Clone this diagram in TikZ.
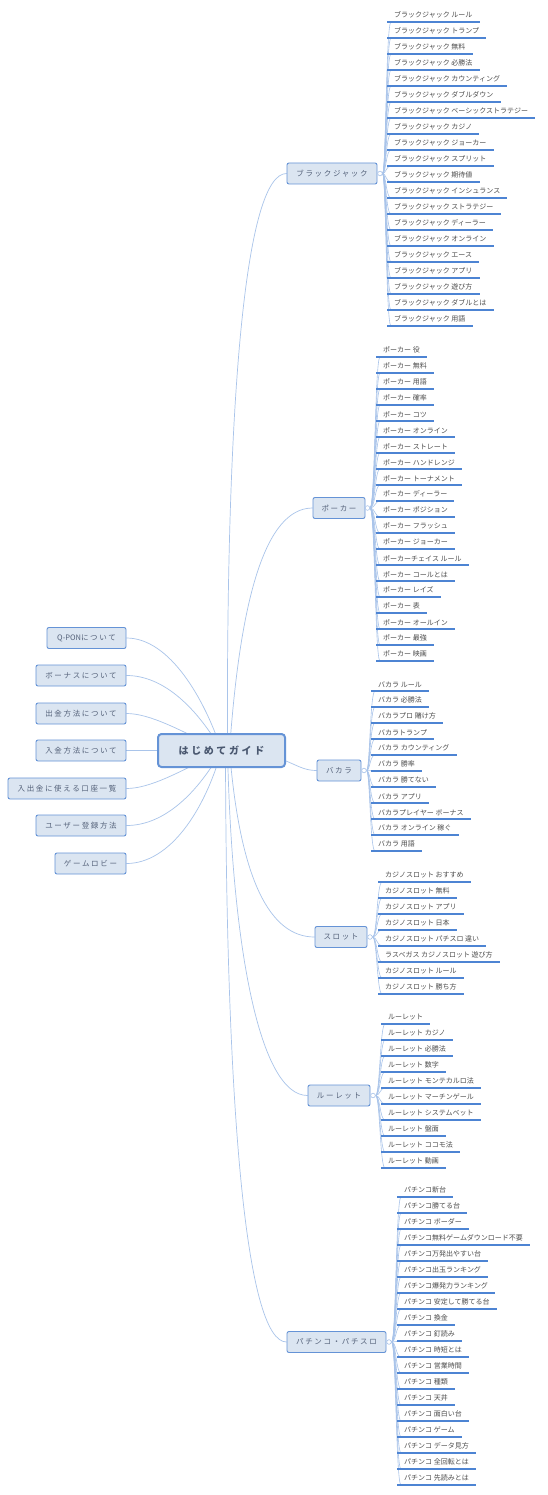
\documentclass[tikz,border=0pt]{standalone}
\usepackage{fontspec}
\newfontfamily\jp{Noto Sans CJK JP}
\newfontfamily\jpls[LetterSpace=22]{Noto Sans CJK JP}
\newfontfamily\jpcen[LetterSpace=26]{Noto Sans CJK JP}
\pgfdeclarelayer{background}
\pgfdeclarelayer{bottom}
\pgfsetlayers{bottom,background,main}
\definecolor{nodef}{HTML}{DBE5F1}
\definecolor{nodeb}{HTML}{6593D6}
\definecolor{connc}{HTML}{A9C4EA}
\definecolor{ulinec}{HTML}{4D84D3}
\definecolor{leaftext}{HTML}{4D4D4D}
\definecolor{cattext}{HTML}{55627A}
\definecolor{centext}{HTML}{4A5870}
\newcommand\mkleaves[6]{%
  \foreach \t [count=\i from 0] in {#6}{%
    \node[leaf] (#1\i) at (#3,{#4+16*\i}) {\t};
    \begin{pgfonlayer}{background}
      \draw[lconn] (#2.east) .. controls (#3-1,#5) and (#3-1,{#4+16*\i}) .. ([xshift=4pt]#1\i.south west);
    \end{pgfonlayer}
    \draw[uline] (#1\i.south west) -- (#1\i.south east);
  }}
\begin{document}
\begin{tikzpicture}[x=1pt,y=-1pt,
  catbox/.style={draw=nodeb, fill=nodef, rounded corners=2pt, line width=0.9pt,
    font=\jpls\fontsize{7.5}{9}\selectfont, text=cattext, minimum height=21pt, inner xsep=2pt, inner ysep=1pt},
  cenbox/.style={draw=nodeb, fill=nodef, rounded corners=3.5pt, line width=2pt,
    font=\jpcen\bfseries\fontsize{10}{12}\selectfont, text=centext, minimum width=127pt, minimum height=33pt},
  leaf/.style={anchor=south west, inner xsep=7pt, inner ysep=3.5pt,
    font=\jp\fontsize{7}{8}\selectfont, text=leaftext},
  uline/.style={draw=ulinec, line width=1.2pt},
  conn/.style={draw=connc, line width=0.7pt},
  lconn/.style={draw=connc, line width=0.6pt},
  marker/.style={circle, draw=connc, fill=white, line width=0.6pt, inner sep=0pt, minimum size=4.6pt}
]
\begin{pgfonlayer}{bottom}
  \fill[white] (0,0) rectangle (547,1495);
\end{pgfonlayer}
\useasboundingbox (0,0) rectangle (547,1495);

% center
\node[cenbox] (hc) at (221.5,750.5) {はじめてガイド};

% left nodes
\node[catbox, minimum width=79pt] (q) at (86.5,638) {{\jp\fontsize{7.5}{9}\selectfont Q-PON}について};
\node[catbox, minimum width=90pt] (bo) at (81,675.5) {ボーナスについて};
\node[catbox, minimum width=90pt] (sk) at (81,713.5) {出金方法について};
\node[catbox, minimum width=90pt] (nk) at (81,750.5) {入金方法について};
\node[catbox, minimum width=118pt] (ko) at (67,788.5) {入出金に使える口座一覧};
\node[catbox, minimum width=90pt] (us) at (81,825.5) {ユーザー登録方法};
\node[catbox, minimum width=71pt] (gl) at (90.5,863.5) {ゲームロビー};

% categories
\node[catbox, minimum width=90pt] (bj) at (332,173.5) {ブラックジャック};
\node[catbox, minimum width=52pt] (pk) at (339,508) {ポーカー};
\node[catbox, minimum width=44pt] (bc) at (339,770.5) {バカラ};
\node[catbox, minimum width=52pt] (sl) at (341,937) {スロット};
\node[catbox, minimum width=62pt] (rl) at (339,1095.5) {ルーレット};
\node[catbox, minimum width=99pt] (pc) at (336.5,1342) {パチンコ・パチスロ};

\node[marker] (bjm) at (380,173.5) {};
\node[marker] (pkm) at (367.5,508) {};
\node[marker] (bcm) at (364,770.5) {};
\node[marker] (slm) at (370,937) {};
\node[marker] (rlm) at (373,1095.5) {};
\node[marker] (pcm) at (389,1342) {};

\begin{pgfonlayer}{background}
  % left connectors
  \draw[conn] (hc.center) .. controls (205,700) and (170,638) .. (q.east);
  \draw[conn] (hc.center) .. controls (198,710) and (165,675.5) .. (bo.east);
  \draw[conn] (hc.center) .. controls (180,730) and (150,713.5) .. (sk.east);
  \draw[conn] (hc.center) -- (nk.east);
  \draw[conn] (hc.center) .. controls (180,772) and (150,788.5) .. (ko.east);
  \draw[conn] (hc.center) .. controls (198,792) and (165,825.5) .. (us.east);
  \draw[conn] (hc.center) .. controls (205,810) and (170,863.5) .. (gl.east);
  % right connectors
  \draw[conn] ([xshift=6pt]hc.center) .. controls (226,400) and (245,173.5) .. (bj.west);
  \draw[conn] ([xshift=8pt]hc.center) .. controls (240,600) and (265,508) .. (pk.west);
  \draw[conn] ([xshift=18pt]hc.center) .. controls (290,755) and (295,770.5) .. (bc.west);
  \draw[conn] ([xshift=8pt]hc.center) .. controls (240,880) and (270,937) .. (sl.west);
  \draw[conn] ([xshift=6pt]hc.center) .. controls (232,950) and (260,1095.5) .. (rl.west);
  \draw[conn] ([xshift=4pt]hc.center) .. controls (226,1100) and (245,1342) .. (pc.west);
\end{pgfonlayer}

\mkleaves{bj}{bjm}{387}{22}{173.5}{ブラックジャック ルール,
ブラックジャック トランプ,
ブラックジャック 無料,
ブラックジャック 必勝法,
ブラックジャック カウンティング,
ブラックジャック ダブルダウン,
ブラックジャック ベーシックストラテジー,
ブラックジャック カジノ,
ブラックジャック ジョーカー,
ブラックジャック スプリット,
ブラックジャック 期待値,
ブラックジャック インシュランス,
ブラックジャック ストラテジー,
ブラックジャック ディーラー,
ブラックジャック オンライン,
ブラックジャック エース,
ブラックジャック アプリ,
ブラックジャック 遊び方,
ブラックジャック ダブルとは,
ブラックジャック 用語}

\mkleaves{pk}{pkm}{376}{357}{508}{ポーカー 役,
ポーカー 無料,
ポーカー 用語,
ポーカー 確率,
ポーカー コツ,
ポーカー オンライン,
ポーカー ストレート,
ポーカー ハンドレンジ,
ポーカー トーナメント,
ポーカー ディーラー,
ポーカー ポジション,
ポーカー フラッシュ,
ポーカー ジョーカー,
ポーカーチェイス ルール,
ポーカー コールとは,
ポーカー レイズ,
ポーカー 表,
ポーカー オールイン,
ポーカー 最強,
ポーカー 映画}

\mkleaves{bc}{bcm}{371}{691}{770.5}{バカラ ルール,
バカラ 必勝法,
バカラプロ 賭け方,
バカラトランプ,
バカラ カウンティング,
バカラ 勝率,
バカラ 勝てない,
バカラ アプリ,
バカラプレイヤー ボーナス,
バカラ オンライン 稼ぐ,
バカラ 用語}

\mkleaves{sl}{slm}{378}{882}{937}{カジノスロット おすすめ,
カジノスロット 無料,
カジノスロット アプリ,
カジノスロット 日本,
カジノスロット パチスロ 違い,
ラスベガス カジノスロット 遊び方,
カジノスロット ルール,
カジノスロット 勝ち方}

\mkleaves{rl}{rlm}{381}{1024}{1095.5}{ルーレット,
ルーレット カジノ,
ルーレット 必勝法,
ルーレット 数字,
ルーレット モンテカルロ法,
ルーレット マーチンゲール,
ルーレット システムベット,
ルーレット 盤面,
ルーレット ココモ法,
ルーレット 動画}

\mkleaves{pc}{pcm}{397}{1197}{1342}{パチンコ新台,
パチンコ勝てる台,
パチンコ ボーダー,
パチンコ無料ゲームダウンロード不要,
パチンコ万発出やすい台,
パチンコ出玉ランキング,
パチンコ爆発力ランキング,
パチンコ 安定して勝てる台,
パチンコ 換金,
パチンコ 釘読み,
パチンコ 時短とは,
パチンコ 営業時間,
パチンコ 種類,
パチンコ 天井,
パチンコ 面白い台,
パチンコ ゲーム,
パチンコ データ見方,
パチンコ 全回転とは,
パチンコ 先読みとは}
\end{tikzpicture}
\end{document}
